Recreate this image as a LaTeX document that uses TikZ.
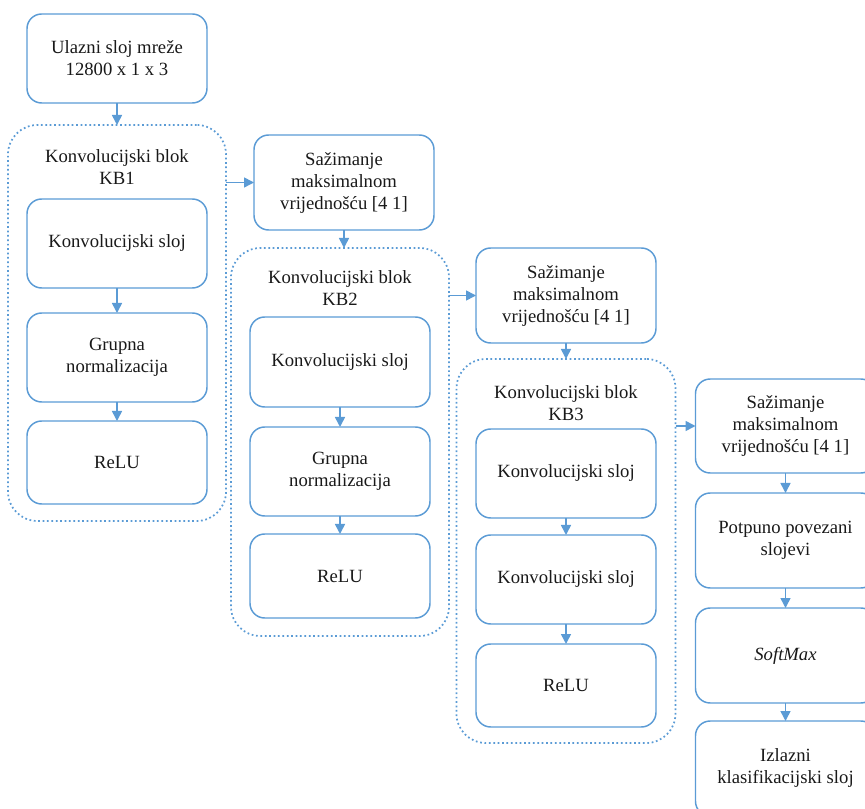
\documentclass[tikz,border=0pt]{standalone}
\usepackage{fontspec}
\setmainfont{Liberation Serif}
\usetikzlibrary{positioning}
\usetikzlibrary{arrows.meta}
\definecolor{lineblue}{HTML}{5B9BD5}
\tikzset{>={Triangle[width=7.5pt,length=7.5pt]}}

\begin{document}
\begin{tikzpicture}[every node/.style={font=\fontsize{14}{16.5}\selectfont}, layer/.style={rectangle, rounded corners=11pt, draw=lineblue, line width=1.1pt, outer sep=0pt, text=black!90, align=center, minimum width=135pt, minimum height=66.75pt, inner sep=2pt}, block/.style={rectangle, rounded corners=22pt, draw=lineblue, line width=1.3pt, outer sep=0pt, dotted, minimum width=163.5pt}, title/.style={draw=none, fill=none, inner sep=0pt, align=center, text=black!90}, link/.style={->, draw=lineblue, line width=1.2pt}]
    \useasboundingbox (0,0) rectangle (648.75pt,-606.75pt);

    %Nodes
    \node[layer](in) at (87.75pt,-43.875pt){Ulazni sloj mreže\\12800 x 1 x 3};
    \node[block, minimum height=297pt](kb1)[below=16.5pt of in]{};
    \node[title](t1)[below=18.5pt of kb1.north]{Konvolucijski blok\\KB1};
    \node[layer](konv1)[below=55.5pt of kb1.north]{Konvolucijski sloj};
    \node[layer](grupna1)[below=18.75pt of konv1]{Grupna\\normalizacija};
    \node[layer, minimum height=62.25pt](relu1)[below=14.25pt of grupna1]{ReLU};

    \node[layer, minimum height=71.25pt](pool1)[below right=7.5pt and 21pt of kb1.north east]{Sažimanje\\maksimalnom\\vrijednošću [4 1]};
    \node[block, minimum height=291pt](kb2)[below=13.5pt of pool1, xshift=-3pt]{};
    \node[title](t2)[below=17pt of kb2.north]{Konvolucijski blok\\KB2};
    \node[layer, minimum height=67.5pt](konv2)[below=51.75pt of kb2.north]{Konvolucijski sloj};
    \node[layer](grupna2)[below=15pt of konv2]{Grupna\\normalizacija};
    \node[layer, minimum height=63pt](relu2)[below=13.5pt of grupna2]{ReLU};

    \node[layer, minimum height=71.25pt](pool2)[below right=0pt and 20.25pt of kb2.north east]{Sažimanje\\maksimalnom\\vrijednošću [4 1]};
    \node[block, minimum height=288pt, minimum width=164.25pt](kb3)[below=12pt of pool2]{};
    \node[title](t3)[below=20pt of kb3.north]{Konvolucijski blok\\KB3};
    \node[layer](konv3)[below=52.5pt of kb3.north]{Konvolucijski sloj};
    \node[layer](konv4)[below=12.75pt of konv3]{Konvolucijski sloj};
    \node[layer, minimum height=62.25pt](relu3)[below=15pt of konv4]{ReLU};

    \node[layer, minimum height=70.5pt](pool3)[below right=15pt and 15pt of kb3.north east]{Sažimanje\\maksimalnom\\vrijednošću [4 1]};
    \node[layer, minimum height=71.25pt](fc)[below=15pt of pool3]{Potpuno povezani\\slojevi};
    \node[layer, minimum height=71.25pt](softmax)[below=15pt of fc]{\textit{SoftMax}};
    \node[layer, minimum height=71.25pt](out)[below=13.5pt of softmax]{Izlazni\\klasifikacijski sloj};

    %Lines
    \draw[link] (in.south) -- (kb1.north);
    \draw[link] (konv1.south) -- (grupna1.north);
    \draw[link] (grupna1.south) -- (relu1.north);
    \draw[link] (pool1.west -| kb1.east) -- (pool1.west);
    \draw[link] (pool1.south) -- (pool1.south |- kb2.north);
    \draw[link] (konv2.south) -- (grupna2.north);
    \draw[link] (grupna2.south) -- (relu2.north);
    \draw[link] (pool2.west -| kb2.east) -- (pool2.west);
    \draw[link] (pool2.south) -- (kb3.north);
    \draw[link] (konv3.south) -- (konv4.north);
    \draw[link] (konv4.south) -- (relu3.north);
    \draw[link] (pool3.west -| kb3.east) -- (pool3.west);
    \draw[link] (pool3.south) -- (fc.north);
    \draw[link] (fc.south) -- (softmax.north);
    \draw[link] (softmax.south) -- (out.north);

\end{tikzpicture}
\end{document}
